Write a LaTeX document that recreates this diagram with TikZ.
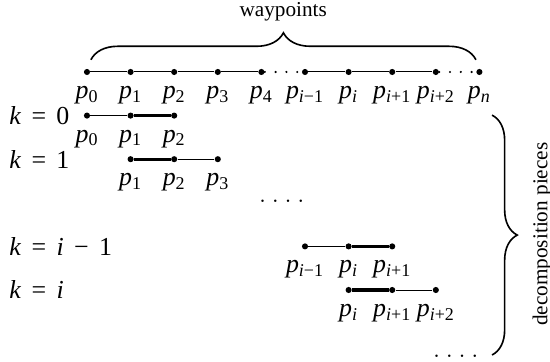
\documentclass[tikz,border=0pt]{standalone}
\usepackage{fontspec}
\setmainfont{Liberation Serif}
\usetikzlibrary{decorations.pathreplacing}
\newcommand{\wpt}[1]{\textit{p}\textsubscript{#1}}
\newcommand{\vi}{\textit{i}}
\newcommand{\keq}{\hspace{0.4em}=\hspace{0.4em}}

\begin{document}
\begin{tikzpicture}[x=0.852cm, y=0.852cm, every node/.style={font=\Large}]
\tikzset{pt/.style={circle, fill, inner sep=0pt, minimum size=3.4pt}}
\tikzset{seg/.style={line width=0.55pt}}
\tikzset{hseg/.style={line width=1.8pt}}
\tikzset{gap/.style={line width=1.3pt, line cap=round, dash pattern=on 0pt off 6pt}}
\tikzset{lbl/.style={label distance=2.5pt}}
\tikzset{klab/.style={anchor=west, inner sep=0pt}}
\tikzset{side/.style={font=\fontsize{11.8}{14}\selectfont}}
\tikzset{brace/.style={decorate, decoration={brace, amplitude=#1}, line width=0.9pt}}
\useasboundingbox (-1.995,-6.651) rectangle (10.619,1.651);
% waypoints
\node[pt, label={[lbl]below:\wpt{0}}] (w0) at (0,0) {};
\node[pt, label={[lbl]below:\wpt{1}}] (w1) at (1,0) {};
\node[pt, label={[lbl]below:\wpt{2}}] (w2) at (2,0) {};
\node[pt, label={[lbl]below:\wpt{3}}] (w3) at (3,0) {};
\node[pt, label={[lbl]below:\wpt{4}}] (w4) at (4,0) {};
\node[pt, label={[lbl]below:\wpt{\vi−1}}] (wim1) at (5,0) {};
\node[pt, label={[lbl]below:\wpt{\vi}}] (wi) at (6,0) {};
\node[pt, label={[lbl]below:\wpt{\vi+1}}] (wip1) at (7,0) {};
\node[pt, label={[lbl]below:\wpt{\vi+2}}] (wip2) at (8,0) {};
\node[pt, label={[lbl]below:\wpt{\textit{n}}}] (wn) at (9,0) {};
\draw[seg] (w0) -- (w1) -- (w2) -- (w3) -- (w4);
\draw[gap] (w4) -- (wim1);
\draw[seg] (wim1) -- (wi) -- (wip1) -- (wip2);
\draw[gap] (wip2) -- (wn);
\draw[brace=15pt] (0.09,0.28) -- (8.92,0.28);
\node[side] (wlab) at (4.5,1.38) {waypoints};
% pieces
\node[klab] (k0) at (-1.79,-1) {\textit{k}\keq0};
\node[pt, label={[lbl]below:\wpt{0}}] (a0) at (0,-1) {};
\node[pt, label={[lbl]below:\wpt{1}}] (a1) at (1,-1) {};
\node[pt, label={[lbl]below:\wpt{2}}] (a2) at (2,-1) {};
\draw[seg] (a0) -- (a1);
\draw[hseg] (a1) -- (a2);
\node[klab] (k1) at (-1.79,-2) {\textit{k}\keq1};
\node[pt, label={[lbl]below:\wpt{1}}] (b1) at (1,-2) {};
\node[pt, label={[lbl]below:\wpt{2}}] (b2) at (2,-2) {};
\node[pt, label={[lbl]below:\wpt{3}}] (b3) at (3,-2) {};
\draw[hseg] (b1) -- (b2);
\draw[seg] (b2) -- (b3);
\node[anchor=base] (dmid) at (4.47,-3.0) {$.\:.\:.\:.$};
\node[klab] (kim1) at (-1.79,-4) {\textit{k}\keq\vi\hspace{0.4em}−\hspace{0.4em}1};
\node[pt, label={[lbl]below:\wpt{\vi−1}}] (c0) at (5,-4) {};
\node[pt, label={[lbl]below:\wpt{\vi}}] (c1) at (6,-4) {};
\node[pt, label={[lbl]below:\wpt{\vi+1}}] (c2) at (7,-4) {};
\draw[seg] (c0) -- (c1);
\draw[hseg] (c1) -- (c2);
\node[klab] (ki) at (-1.79,-5) {\textit{k}\keq\vi};
\node[pt, label={[lbl]below:\wpt{\vi}}] (d0) at (6,-5) {};
\node[pt, label={[lbl]below:\wpt{\vi+1}}] (d1) at (7,-5) {};
\node[pt, label={[lbl]below:\wpt{\vi+2}}] (d2) at (8,-5) {};
\draw[hseg] (d0) -- (d1);
\draw[seg] (d1) -- (d2);
\node[anchor=base] (dend) at (8.46,-6.55) {$.\:.\:.\:.$};
\draw[brace=14pt] (9.29,-0.99) -- (9.29,-6.49);
\node[side, rotate=90] (plab) at (10.44,-3.72) {decomposition pieces};
\end{tikzpicture}
\end{document}
